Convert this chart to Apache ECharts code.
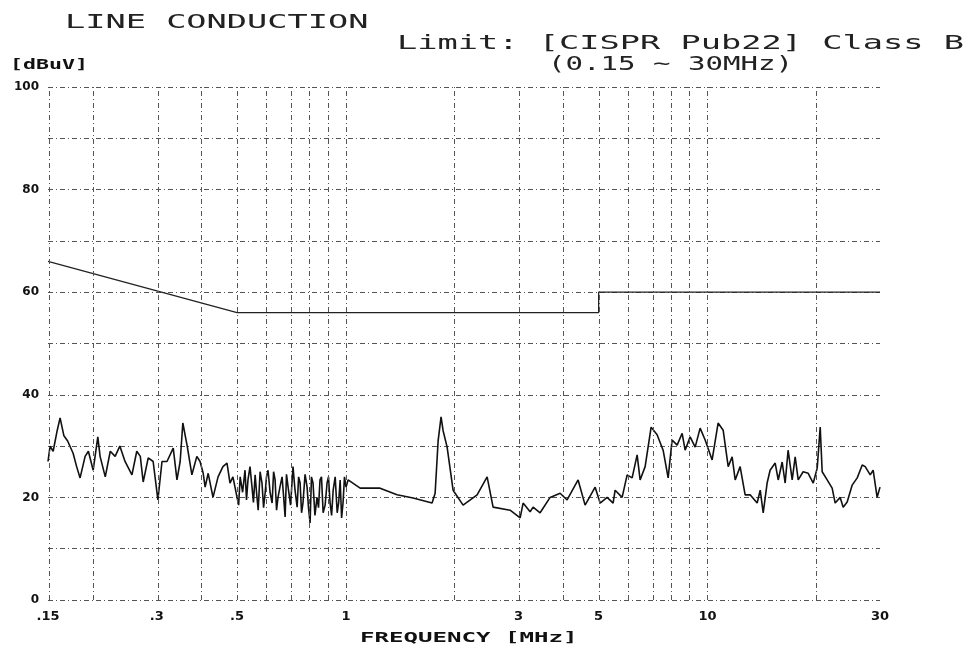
<!DOCTYPE html>
<html>
<head>
<meta charset="utf-8">
<script src="https://cdn.jsdelivr.net/npm/echarts@6/dist/echarts.min.js"></script>
<style>
  html, body { margin: 0; padding: 0; background: #fff; }
  #myChart { width: 976px; height: 651px; }
</style>
</head>
<body>
<div id="myChart"></div>
<script>
// frequencies (MHz) of the dashed vertical grid lines
var gridFreqs = [0.15, 0.2, 0.3, 0.4, 0.5, 0.6, 0.7, 0.8, 0.9, 1, 2, 3, 4, 5, 6, 7, 8, 9, 10, 20, 30];
// labelled ticks on the frequency axis
var tickFreqs = [0.15, 0.3, 0.5, 1, 3, 5, 10, 30];
// level ticks (dBuV)
var levelTicks = [0, 20, 40, 60, 80, 100];

// CISPR 22 class B limit
var limitFreq = [0.15, 0.5, 5, 5, 30];
var limitLevel = [66, 56, 56, 60, 60];

var lowFreq = [
  0.150, 0.152, 0.155, 0.159, 0.162, 0.166, 0.170, 0.176, 0.180, 0.184,
  0.190, 0.194, 0.200, 0.206, 0.209, 0.216, 0.223, 0.230, 0.237, 0.245,
  0.256, 0.264, 0.270, 0.275, 0.284, 0.293, 0.302, 0.310, 0.320, 0.333,
  0.341, 0.348, 0.354, 0.364, 0.375, 0.387, 0.395, 0.403, 0.408, 0.416,
  0.429, 0.443, 0.457, 0.469, 0.478, 0.487
];
var lowLevel = [
  27, 30, 29, 33, 35.5, 32, 31, 28.6, 26, 23.8,
  28, 29, 25.3, 31.8, 28, 24, 29, 28, 30, 27,
  24.4, 29, 28, 23, 27.7, 27, 19.5, 27, 27, 29.6,
  23.4, 27, 34.5, 30, 24.4, 28, 27, 24.7, 22, 24.7,
  20, 24, 26, 26.7, 22.8, 24
];
var midFreq = [
  0.500, 0.505, 0.510, 0.518, 0.526, 0.531, 0.536, 0.543, 0.550, 0.555,
  0.561, 0.566, 0.572, 0.579, 0.586, 0.592, 0.598, 0.603, 0.609, 0.617,
  0.625, 0.631, 0.637, 0.643, 0.649, 0.657, 0.666, 0.672, 0.679, 0.685,
  0.692, 0.703, 0.714, 0.723, 0.733, 0.740, 0.747, 0.754, 0.761, 0.771,
  0.781, 0.788, 0.796, 0.803, 0.811, 0.821, 0.832, 0.840, 0.848, 0.856,
  0.865, 0.876, 0.887, 0.895, 0.904, 0.913, 0.922, 0.934, 0.946, 0.955,
  0.964, 0.973, 0.982, 0.991, 1.001, 1.014
];
var midLevel = [
  20, 18.5, 24, 21, 25.3, 19.5, 23.4, 26, 22, 19,
  24.4, 21, 17.5, 25, 22.8, 18, 20.9, 24, 25.3, 21,
  18.9, 25, 23.4, 17.5, 20, 22, 24, 20.5, 16.2, 24.5,
  22, 18.5, 26, 21.5, 18.1, 24, 22.8, 17, 19, 24.5,
  22, 18, 15, 24, 22.8, 16.5, 20, 18, 23.4, 24,
  17, 18.5, 22.8, 24, 19, 16.5, 21.4, 24, 17, 19,
  23.4, 16, 19, 24, 22, 23.4
];
var highFreq = [
  1.095, 1.243, 1.385, 1.534, 1.731, 1.765, 1.799, 1.833, 1.857, 1.905,
  1.979, 2.109, 2.306, 2.458, 2.553, 2.845, 3.033, 3.091, 3.232, 3.294,
  3.444, 3.671, 3.912, 4.090, 4.387, 4.587, 4.890, 5.048, 5.277, 5.483,
  5.554, 5.807, 5.995, 6.189, 6.389, 6.512, 6.723, 6.984, 7.256, 7.539,
  7.784, 7.983, 8.243, 8.510, 8.673, 8.954, 9.245, 9.543, 9.852, 10.30,
  10.70, 11.05, 11.41, 11.70, 11.93, 12.31, 12.71, 13.12, 13.72, 13.99,
  14.26, 14.62, 14.90, 15.39, 15.69, 16.09, 16.40, 16.71, 17.15, 17.48,
  17.82, 18.39, 18.99, 19.61, 20.11, 20.50, 20.76, 21.43, 22.12, 22.55,
  23.28, 23.73, 24.34, 25.13, 25.95, 26.79, 27.30, 28.19, 28.72, 29.46,
  30.0
];
var highLevel = [
  21.8, 21.8, 20.5, 19.9, 18.9, 20.8, 31, 35.7, 33, 29.8,
  21.4, 18.5, 20.5, 24, 18.1, 17.5, 16, 18.9, 17.2, 18.1,
  17, 20, 20.8, 19.5, 23.4, 18.5, 22, 18.9, 20, 18.9,
  21.4, 20, 24.4, 23.8, 28.3, 23.4, 26, 33.7, 32.2, 29.2,
  23.8, 31.2, 30.2, 32.5, 29.2, 31.8, 29.8, 33.5, 31.2, 27.3,
  34.5, 33.1, 26, 27.9, 23.4, 26, 20.5, 20.5, 18.9, 21.4,
  17, 22.8, 25.3, 26.7, 23.4, 26.9, 22.8, 29.2, 23.4, 27.9,
  23.4, 25, 24.7, 22.8, 25.7, 33.7, 25, 23.4, 21.8, 18.9,
  20, 18.1, 19.1, 22.4, 23.8, 26.3, 26, 24.4, 25.3, 20,
  22
];

function lg(f) { return Math.log10(f) }
function pairs(fs, vs) {
  return fs.map(function (f, i) { return [lg(f), vs[i]] })
}

var traceData = pairs(lowFreq, lowLevel)
  .concat(pairs(midFreq, midLevel))
  .concat(pairs(highFreq, highLevel));

var gridStyle = { color: '#555', width: 1, type: [5, 3, 1, 3] };
var monoFont = '"DejaVu Sans Mono", monospace';

var myChart = echarts.init(document.getElementById('myChart'));

var option = {
  animation: false,
  backgroundColor: '#fff',
  grid: { left: 48, right: 96, top: 87, bottom: 51 },
  xAxis: {
    type: 'value',
    min: lg(0.15),
    max: lg(30),
    axisLine: { show: false },
    axisTick: { show: false },
    splitLine: { show: false },
    axisLabel: {
      customValues: tickFreqs.map(lg),
      margin: 10,
      color: '#111',
      fontFamily: 'DejaVu Sans',
      fontWeight: 'bold',
      fontSize: 13,
      formatter: function (v) {
        var f = +Math.pow(10, v).toPrecision(3);
        return String(f).replace(/^0\./, '.');
      }
    }
  },
  yAxis: {
    type: 'value',
    min: 0,
    max: 100,
    interval: 10,
    axisLine: { show: false },
    axisTick: { show: false },
    splitLine: { show: true, lineStyle: gridStyle },
    axisLabel: {
      margin: 9,
      color: '#111',
      fontFamily: 'DejaVu Sans',
      fontWeight: 'bold',
      fontSize: 12,
      formatter: function (v) {
        return levelTicks.indexOf(v) >= 0 ? String(v) : '';
      }
    }
  },
  graphic: [
    { type: 'text', x: 65, y: 23, scaleX: 1.68,
      style: { text: 'LINE CONDUCTION', font: '20px ' + monoFont, fill: '#222',
        align: 'left', verticalAlign: 'middle', textAlign: 'left', textVerticalAlign: 'middle' } },
    { type: 'text', x: 397, y: 44, scaleX: 1.77,
      style: { text: 'Limit: [CISPR Pub22] Class B', font: '19px ' + monoFont, fill: '#222',
        align: 'left', verticalAlign: 'middle', textAlign: 'left', textVerticalAlign: 'middle' } },
    { type: 'text', x: 548, y: 65, scaleX: 1.53,
      style: { text: '(0.15 ~ 30MHz)', font: '19px ' + monoFont, fill: '#222',
        align: 'left', verticalAlign: 'middle', textAlign: 'left', textVerticalAlign: 'middle' } },
    { type: 'text', x: 10, y: 65, scaleX: 1.54,
      style: { text: '[dBuV]', font: 'bold 14px ' + monoFont, fill: '#111',
        align: 'left', verticalAlign: 'middle', textAlign: 'left', textVerticalAlign: 'middle' } },
    { type: 'text', x: 360, y: 638, scaleX: 1.72,
      style: { text: 'FREQUENCY [MHz]', font: 'bold 14px ' + monoFont, fill: '#111',
        align: 'left', verticalAlign: 'middle', textAlign: 'left', textVerticalAlign: 'middle' } }
  ],
  series: [
    {
      name: 'limit',
      type: 'line',
      symbol: 'none',
      data: pairs(limitFreq, limitLevel),
      lineStyle: { color: '#222', width: 1.3 },
      // vertical dashed grid at 1-2-3..9 steps of every decade
      markLine: {
        silent: true,
        symbol: ['none', 'none'],
        label: { show: false },
        lineStyle: gridStyle,
        data: gridFreqs.map(function (f) { return { xAxis: lg(f) } })
      },
      z: 3
    },
    {
      name: 'trace',
      type: 'line',
      symbol: 'none',
      data: traceData,
      lineStyle: { color: '#111', width: 1.6 },
      z: 4
    }
  ]
};

myChart.setOption(option);
</script>
</body>
</html>
